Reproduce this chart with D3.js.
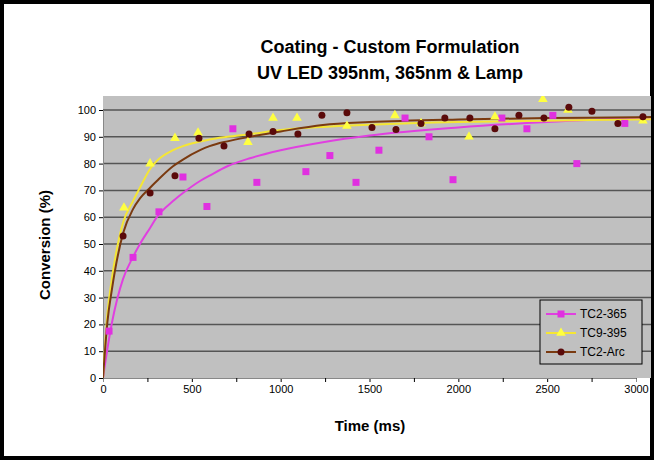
<!DOCTYPE html><html><head><script src="https://d3js.org/d3.v7.min.js"></script>
<style>body{margin:0;background:#fff}</style></head><body><script>
const m365x=[34,169,315,450,585,731,866,1142,1277,1424,1553,1700,1835,1970,2245,2386,2532,2667,2937];
const m365y=[17.5,45,62,75,64,93,73,77,83,73,85,97,90,74,97,93,98,80,95];
const y395x=[118,265,405,535,816,957,1092,1373,1643,1790,2060,2206,2476,2617,3039];
const y395y=[63.5,80,89.5,91.5,88,97,97,94,98,95,90,97.5,104,100,96];
const arcx=[113,265,405,540,681,822,957,1097,1232,1373,1514,1649,1790,1924,2065,2206,2341,2482,2622,2752,2898,3039];
const arcy=[53,69,75.5,89.5,86.6,91,92,91,98,99,93.5,92.7,95,97,97,93,98,97,101,99.5,95,97.5];
// trendlines
const fitX=[0,25,50,113,169,208,265,303,394,450,546,600,700,827,1000,1238,1500,2000,2500,3000,3100];
const fit365=[0,11,20.5,37,45.2,50,56,60,66,69,73.5,75.5,79,82,85,88,90.5,93.5,95.5,96.9,97];
const fit395=[0,24,37,58,66,71,78,81,85,86.5,88.2,89,90,91,92.5,93.7,94.5,95.5,96,96.5,96.6];
const fitArc=[0,21,33,54,63,67,71,73.5,79,81.5,85,86.5,88.3,90,92,94.4,95.5,96.5,97,97.3,97.4];
const xTicks=[0,500,1000,1500,2000,2500,3000];
const yTicks=[0,10,20,30,40,50,60,70,80,90,100];
const W=654,H=460;
const svg=d3.select("body").append("svg").attr("width",W).attr("height",H).style("font-family","Liberation Sans, Arial");
svg.append("rect").attr("x",2).attr("y",2).attr("width",W-4).attr("height",H-4).attr("fill","#fff").attr("stroke","#000").attr("stroke-width",4);
const x=d3.scaleLinear().domain([0,3000]).range([103,636]);
const y=d3.scaleLinear().domain([0,100]).range([378,110]);
const L=103,R=651,T=96,B=378;
svg.append("rect").attr("x",L).attr("y",T).attr("width",R-L).attr("height",B-T).attr("fill","#c0c0c0");
svg.append("g").selectAll("line").data(yTicks.slice(1)).join("line").attr("x1",L).attr("x2",R).attr("y1",d=>y(d)).attr("y2",d=>y(d)).attr("stroke","#555").attr("stroke-width",1.5);
const ya=svg.append("g").attr("transform",`translate(${L},0)`).call(d3.axisLeft(y).tickValues(yTicks).tickSize(4));
const xa=svg.append("g").attr("transform",`translate(0,${B})`).call(d3.axisBottom(x).tickValues(xTicks).tickSize(4).tickFormat(d3.format("d")));
svg.append("g").call(d3.axisBottom(x).tickValues([250,750,1250,1750,2250,2750]).tickSize(4).tickFormat("")).attr("transform",`translate(0,${B})`);
[ya,xa].forEach(a=>{a.selectAll("text").attr("font-size",11).attr("fill","#000")});
svg.selectAll(".domain").attr("stroke","#888");
svg.append("clipPath").attr("id","c").append("rect").attr("x",L).attr("y",T).attr("width",R-L).attr("height",B-T);
const g=svg.append("g").attr("clip-path","url(#c)");
const line=d3.line().x((d,i)=>x(fitX[i])).y(d=>y(d)).curve(d3.curveMonotoneX);
g.append("path").attr("d",line(fit365)).attr("fill","none").attr("stroke","#e040e0").attr("stroke-width",2);
g.append("path").attr("d",line(fit395)).attr("fill","none").attr("stroke","#f5e633").attr("stroke-width",2);
g.append("path").attr("d",line(fitArc)).attr("fill","none").attr("stroke","#7a3a10").attr("stroke-width",2);
g.selectAll(".m").data(m365x).join("rect").attr("x",(d)=>x(d)-3.5).attr("y",(d,i)=>y(m365y[i])-3.5).attr("width",7).attr("height",7).attr("fill","#e030e0");
const tri=d3.symbol().type(d3.symbolTriangle).size(40);
g.selectAll(".t").data(y395x).join("path").attr("d",tri).attr("transform",(d,i)=>`translate(${x(d)},${y(y395y[i])})`).attr("fill","#ffff40");
g.selectAll(".a").data(arcx).join("circle").attr("cx",d=>x(d)).attr("cy",(d,i)=>y(arcy[i])).attr("r",3.5).attr("fill","#5a0a0a");
svg.append("text").attr("x",390).attr("y",53).attr("text-anchor","middle").attr("font-weight","bold").attr("font-size",18).text("Coating - Custom Formulation");
svg.append("text").attr("x",390).attr("y",79).attr("text-anchor","middle").attr("font-weight","bold").attr("font-size",18).text("UV LED 395nm, 365nm & Lamp");
svg.append("text").attr("x",370).attr("y",431).attr("text-anchor","middle").attr("font-weight","bold").attr("font-size",15).text("Time (ms)");
svg.append("text").attr("transform","translate(50,245) rotate(-90)").attr("text-anchor","middle").attr("font-weight","bold").attr("font-size",15).text("Conversion (%)");
const lg=svg.append("g").attr("transform","translate(540,300)");
lg.append("rect").attr("width",102).attr("height",64).attr("fill","#c0c0c0").attr("stroke","#000");
const ls=[["TC2-365","#e040e0","#e030e0","s"],["TC9-395","#f5e633","#ffff40","t"],["TC2-Arc","#7a3a10","#5a0a0a","c"]];
ls.forEach((s,i)=>{const yy=14+i*19;
lg.append("line").attr("x1",6).attr("x2",36).attr("y1",yy).attr("y2",yy).attr("stroke",s[1]).attr("stroke-width",2);
if(s[3]=="s")lg.append("rect").attr("x",17.5).attr("y",yy-3.5).attr("width",7).attr("height",7).attr("fill",s[2]);
else if(s[3]=="t")lg.append("path").attr("d",tri).attr("transform",`translate(21,${yy})`).attr("fill",s[2]);
else lg.append("circle").attr("cx",21).attr("cy",yy).attr("r",3.5).attr("fill",s[2]);
lg.append("text").attr("x",40).attr("y",yy+4).attr("font-size",12).text(s[0]);});
</script></body></html>
